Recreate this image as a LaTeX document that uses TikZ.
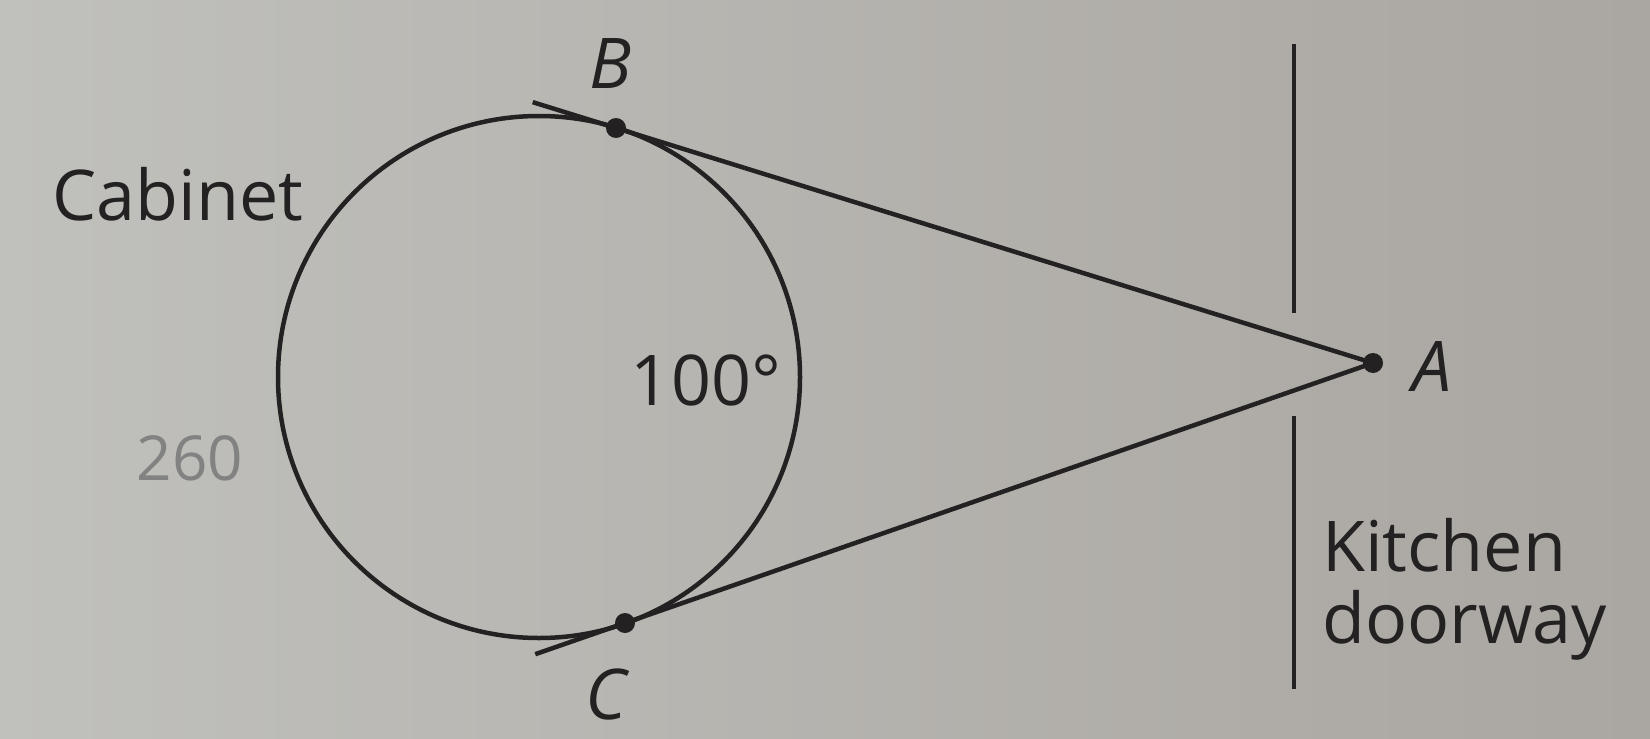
\documentclass[tikz,border=0pt]{standalone}
\usepackage{fontspec}
\setmainfont{Open Sans}
\usetikzlibrary{calc}
\definecolor{paperL}{RGB}{192,192,188}
\definecolor{paperR}{RGB}{170,166,161}
\definecolor{ink}{RGB}{35,33,33}
\definecolor{pencil}{RGB}{130,130,130}
\tikzset{
  geo/.style={draw=ink, line width=4.5pt},
  dot/.style={circle, fill=ink, inner sep=0pt, minimum size=20pt},
  lbl/.style={text=ink, font=\fontsize{70}{84}\selectfont, inner sep=0pt},
  ptlbl/.style={lbl, font=\fontsize{70}{84}\selectfont\itshape},
}
\begin{document}
\begin{tikzpicture}[x=1pt,y=-1pt]
  \shade[left color=paperL, right color=paperR] (0,0) rectangle (1650,739);
  \useasboundingbox (0,0) rectangle (1650,739);
  % circle (cabinet)
  \coordinate (O) at (539,377);
  \draw[geo] (O) circle[radius=261];
  % points
  \coordinate (A) at (1373,363);
  \coordinate (B) at (616,128);
  \coordinate (C) at (625,623);
  \coordinate (Bx) at ($(A)!1.11!(B)$);
  \coordinate (Cx) at ($(A)!1.12!(C)$);
  % tangents
  \draw[geo] (A) -- (Bx);
  \draw[geo] (A) -- (Cx);
  \node[dot] (dA) at (A) {};
  \node[dot] (dB) at (B) {};
  \node[dot] (dC) at (C) {};
  % doorway
  \coordinate (D1) at (1294,44);
  \coordinate (D2) at (1294,313);
  \coordinate (D3) at (1294,416);
  \coordinate (D4) at (1294,689);
  \draw[geo] (D1) -- (D2);
  \draw[geo] (D3) -- (D4);
  % labels
  \node[ptlbl] (lB) at (610,64) {B};
  \node[ptlbl] (lC) at (606,694) {C};
  \node[ptlbl] (lA) at (1432,367) {A};
  \node[lbl] (cab) at (178,194) {Cabinet};
  \node[lbl] (ang) at (706,380) {100°};
  \node[lbl, text=pencil, font=\fontsize{62}{70}\selectfont] (hw) at (190,458) {260};
  \node[lbl, anchor=west] (kit) at (1322,545) {Kitchen};
  \node[lbl, anchor=west] (door) at (1322,625) {doorway};
\end{tikzpicture}
\end{document}
